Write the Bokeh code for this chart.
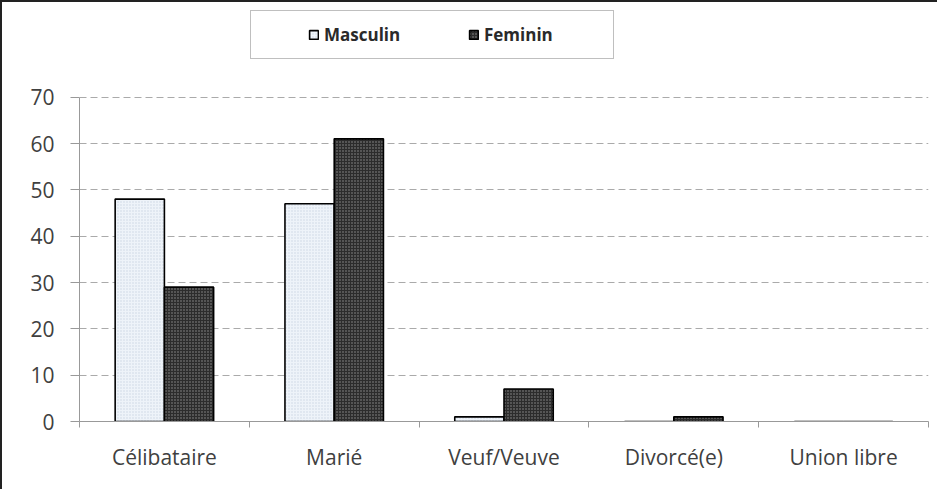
from bokeh.plotting import figure
from bokeh.models import ColumnDataSource, FixedTicker, Range1d, Legend, LegendItem
from bokeh.embed import file_html
from bokeh.resources import INLINE

categories = ["Célibataire", "Marié", "Veuf/Veuve", "Divorcé(e)", "Union libre"]
masculin = [48, 47, 1, 0, 0]
feminin = [29, 61, 7, 1, 0]
y_ticks = [0, 10, 20, 30, 40, 50, 60, 70]

idx = list(range(len(categories)))
centers = [i + 0.5 for i in idx]
bw = 0.29
src = ColumnDataSource(dict(
    xm=[c - bw / 2 for c in centers],
    xf=[c + bw / 2 for c in centers],
    m=masculin, f=feminin,
))

FONT = "Open Sans"
TXT = "#404040"

p = figure(width=937, height=489, output_backend="svg", toolbar_location=None,
           x_range=Range1d(0, len(categories)), y_range=Range1d(0, 90),
           min_border_left=77, min_border_right=11, min_border_top=2, min_border_bottom=70,
           background_fill_color="white", border_fill_color="white")
p.styles = {"border-left": "2px solid #222", "border-top": "2px solid #222"}
p.outline_line_color = None

rm = p.vbar(x="xm", top="m", width=bw, source=src, fill_color="#eef3f9",
            hatch_pattern="dot", hatch_color="#c9d5e2", hatch_scale=3, hatch_weight=1,
            line_color="black", line_width=1.6)
rf = p.vbar(x="xf", top="f", width=bw, source=src, fill_color="#2c2c2c",
            hatch_pattern="dot", hatch_color="#939393", hatch_scale=3, hatch_weight=1,
            line_color="black", line_width=1.6)

# axes
p.xaxis.ticker = FixedTicker(ticks=centers, minor_ticks=[float(i) for i in range(len(categories) + 1)])
p.xaxis.major_label_overrides = {c: n for c, n in zip(centers, categories)}
p.xaxis.major_tick_line_color = None
p.xaxis.major_tick_out = 0
p.xaxis.minor_tick_line_color = "#999999"
p.xaxis.minor_tick_out = 6
p.xaxis.minor_tick_in = 0
p.xaxis.axis_line_color = "#999999"
p.xaxis.major_label_text_font = FONT
p.xaxis.major_label_text_font_size = "21px"
p.xaxis.major_label_text_color = TXT
p.xaxis.major_label_standoff = 15

p.yaxis.ticker = FixedTicker(ticks=y_ticks)
p.yaxis.bounds = (0, 70)
p.yaxis.axis_line_color = "#999999"
p.yaxis.major_tick_line_color = "#999999"
p.yaxis.major_tick_out = 9
p.yaxis.major_tick_in = 0
p.yaxis.minor_tick_line_color = None
p.yaxis.major_label_text_font = FONT
p.yaxis.major_label_text_font_size = "21px"
p.yaxis.major_label_text_color = TXT
p.yaxis.major_label_standoff = 16

p.xgrid.grid_line_color = None
p.ygrid.grid_line_color = "#aaaaaa"
p.ygrid.grid_line_dash = "7 4"
p.ygrid.grid_line_width = 1

legend = Legend(items=[LegendItem(label="Masculin", renderers=[rm]),
                       LegendItem(label="Feminin", renderers=[rf])],
                orientation="horizontal", location=(171, 362),
                padding=12, margin=0, spacing=27, label_width=117,
                glyph_width=11, glyph_height=11, label_standoff=5,
                title=" ", title_location="left", title_text_font_size="1px",
                title_standoff=44,
                label_text_font=FONT, label_text_font_size="17px", label_text_font_style="bold",
                label_text_color="#2a2a2a",
                border_line_color="#808080", border_line_width=1.5,
                background_fill_color="white", background_fill_alpha=1)
p.add_layout(legend, "center")

open("out.html", "w").write(file_html(p, INLINE))
